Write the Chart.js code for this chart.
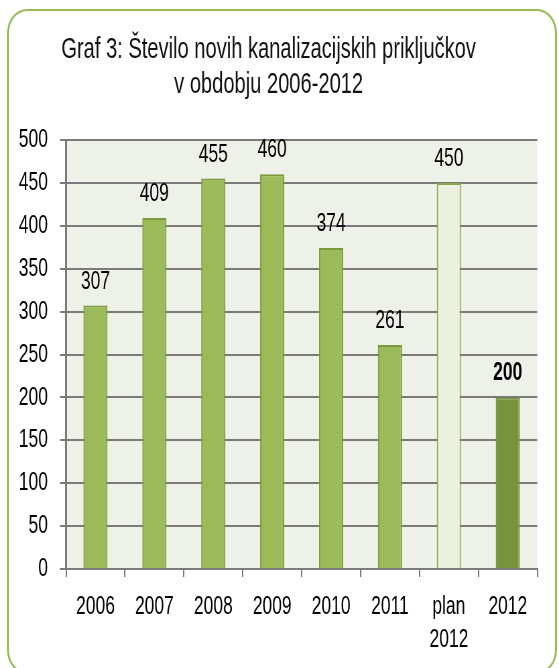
<!DOCTYPE html>
<html>
<head>
<meta charset="utf-8">
<script src="https://cdn.jsdelivr.net/npm/chart.js@4.4.1/dist/chart.umd.min.js"></script>
<style>
  html, body { margin: 0; padding: 0; width: 559px; height: 668px; overflow: hidden; background: #ffffff; }
  #wrap { position: absolute; left: 0; top: 0; width: 559px; height: 668px; overflow: hidden; }
  #frame { position: absolute; left: 7px; top: 9px; width: 550px; height: 665px; box-sizing: border-box;
           border: 2px solid #9bbb59; border-radius: 20px / 24px; z-index: 2; pointer-events: none; }
  #c { position: absolute; left: 0; top: 0; transform: scaleX(0.6703); transform-origin: 0 0; z-index: 1; }
</style>
</head>
<body>
<div id="wrap">
<canvas id="c" width="834" height="668" style="width:834px;height:668px"></canvas>
<div id="frame"></div>
</div>
<script>
const titleLines = ['Graf 3: Število novih kanalizacijskih priključkov', 'v obdobju 2006-2012'];
const categories = ['2006', '2007', '2008', '2009', '2010', '2011', ['plan', '2012'], '2012'];
const values = [307, 409, 455, 460, 374, 261, 450, 200];
const barColors = ['#9bbb59', '#9bbb59', '#9bbb59', '#9bbb59', '#9bbb59', '#9bbb59', '#ebf1de', '#77933c'];
const barBorders = ['#7b9a3e', '#7b9a3e', '#7b9a3e', '#7b9a3e', '#7b9a3e', '#7b9a3e', '#86a84a', '#77933c'];
const boldLabel = [false, false, false, false, false, false, false, true];
const yMin = 0, yMax = 500, yStep = 50;

const FONT = "'Liberation Sans', Arial, sans-serif";

const plotBg = {
  id: 'plotBg',
  beforeDraw(chart) {
    const a = chart.chartArea, ctx = chart.ctx;
    ctx.save();
    ctx.fillStyle = '#eef1e8';
    ctx.fillRect(a.left, a.top, a.right - a.left, a.bottom - a.top);
    ctx.restore();
  }
};

const valueLabels = {
  id: 'valueLabels',
  afterDatasetsDraw(chart) {
    const ctx = chart.ctx;
    const meta = chart.getDatasetMeta(0);
    ctx.save();
    ctx.textAlign = 'center';
    ctx.textBaseline = 'alphabetic';
    ctx.fillStyle = '#000000';
    meta.data.forEach((bar, i) => {
      ctx.font = (boldLabel[i] ? 'bold ' : '') + '26px ' + FONT;
      ctx.fillText(String(values[i]), bar.x, bar.y - 17);
    });
    ctx.restore();
  }
};

new Chart(document.getElementById('c'), {
  type: 'bar',
  data: {
    labels: categories,
    datasets: [{
      data: values,
      backgroundColor: barColors,
      borderColor: barBorders,
      borderWidth: 2,
      borderSkipped: 'bottom',
      categoryPercentage: 1,
      barPercentage: 0.41
    }]
  },
  options: {
    responsive: false,
    animation: false,
    devicePixelRatio: 1,
    layout: { padding: { left: 0, right: 32.5, top: 0, bottom: 0 } },
    plugins: {
      legend: { display: false },
      tooltip: { enabled: false },
      title: {
        display: true,
        text: titleLines,
        color: '#111111',
        font: { family: FONT, size: 30, weight: 'normal', lineHeight: '35px' },
        padding: { top: 32.5, bottom: 37.5 }
      }
    },
    scales: {
      x: {
        grid: { offset: true, drawOnChartArea: false, color: '#7a7a7a', lineWidth: 2, tickLength: 8 },
        border: { display: true, color: '#7a7a7a', width: 2 },
        ticks: { color: '#000000', font: { family: FONT, size: 26, lineHeight: '33px' }, padding: 13.5,
                 autoSkip: false, maxRotation: 0 },
        afterFit(scale) { scale.height = 99; }
      },
      y: {
        min: yMin, max: yMax,
        grid: { color: '#7a7a7a', lineWidth: 2, tickLength: 9 },
        border: { display: true, color: '#7a7a7a', width: 3 },
        ticks: { stepSize: yStep, color: '#000000', font: { family: FONT, size: 26 }, padding: 18 },
        afterFit(scale) { scale.width = 98.5; }
      }
    }
  },
  plugins: [plotBg, valueLabels]
});
</script>
</body>
</html>
